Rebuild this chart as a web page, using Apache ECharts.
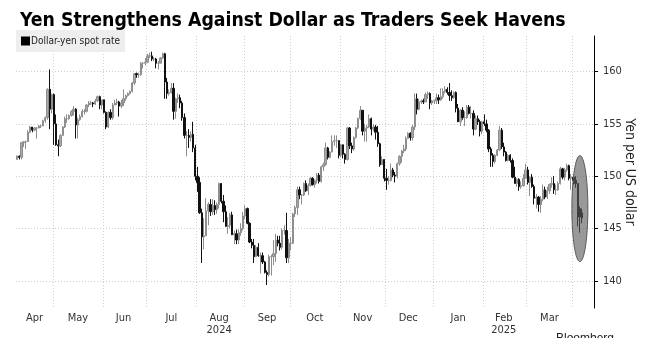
<!DOCTYPE html>
<html>
<head>
<meta charset="utf-8">
<script src="https://cdn.jsdelivr.net/npm/echarts@6/dist/echarts.min.js"></script>
<style>
html,body{margin:0;padding:0;background:#fff;}
#chart{width:650px;height:338px;}
</style>
</head>
<body>
<div id="chart"></div>
<script>
// Each candle: [open, close, low, high] (yen per US dollar)
const apr2024 = [
[151.6,151.9,151.6,152.0],[151.9,151.8,151.6,152.0],[151.8,153.2,151.6,153.2],[153.2,153.3,152.8,153.3],[153.3,153.3,152.6,153.4],
[153.3,154.2,153.3,154.4],[154.2,154.7,154.1,154.8],[154.7,154.4,154.2,154.7],[154.4,154.6,154.3,154.7],[154.6,154.6,153.6,154.7],
[154.6,154.8,154.6,154.9],[154.8,154.8,154.6,154.9],[154.8,155.3,154.8,155.4],[155.3,155.6,155.1,155.7],[155.6,158.3,155.4,158.4],
[158.3,156.4,154.5,160.2],[156.4,157.8,156.0,157.9]];
const may2024 = [
[157.8,155.0,153.0,157.9],[155.0,153.0,152.9,155.9],[153.0,152.9,151.9,153.5],[152.9,153.9,152.8,154.0],[153.9,154.7,153.9,154.8],
[154.7,155.5,154.6,155.7],[155.5,155.5,155.1,155.9],[155.5,155.8,155.4,155.9],[155.8,156.2,155.7,156.3],[156.2,156.4,155.8,156.7],
[156.4,154.9,153.6,156.5],[154.9,155.4,153.6,155.6],[155.4,155.7,155.3,155.9],[155.7,156.2,155.6,156.4],[156.2,156.2,155.9,156.4],
[156.2,156.8,156.1,156.9],[156.8,157.0,156.6,157.2],[157.0,157.0,156.8,157.2],[157.0,156.9,156.6,157.1],[156.9,157.2,156.8,157.4],
[157.2,157.6,157.1,157.7],[157.6,156.8,156.4,157.7],[156.8,157.3,156.4,157.3]];
const jun2024 = [
[157.3,156.1,156.0,157.3],[156.1,154.7,154.5,156.2],[154.7,156.1,154.6,156.2],[156.1,155.6,155.4,156.4],[155.6,156.8,155.4,157.0],
[156.8,157.0,156.8,157.3],[157.0,157.1,156.8,157.4],[157.1,156.7,155.7,157.2],[156.7,157.0,156.5,157.3],[157.0,157.4,156.7,158.3],
[157.4,157.7,157.2,157.8],[157.7,157.9,157.6,158.0],[157.9,158.1,157.8,158.2],[158.1,158.9,158.0,159.0],[158.9,159.8,158.7,159.8],
[159.8,159.7,159.4,159.9],[159.7,159.7,159.4,159.9],[159.7,160.8,159.6,160.9],[160.8,160.8,160.3,160.9],[160.8,160.9,160.6,161.3]];
const jul2024 = [
[160.9,161.5,160.8,161.7],[161.5,161.5,161.3,161.8],[161.5,161.2,161.0,161.9],[161.2,161.2,161.0,161.4],[161.2,160.8,160.3,161.3],
[160.8,160.8,160.2,161.0],[160.8,161.3,160.8,161.4],[161.3,161.7,161.2,161.8],[161.7,159.0,157.4,161.8],[159.0,157.9,157.4,159.4],
[157.9,158.0,157.7,158.3],[158.0,158.4,157.9,158.9],[158.4,156.2,155.4,158.9],[156.2,157.4,155.5,157.5],[157.4,157.5,157.0,157.9],
[157.5,157.0,156.5,157.8],[157.0,155.6,155.3,157.2],[155.6,153.9,153.6,156.0],[153.9,153.9,151.9,154.3],[153.9,153.7,152.7,154.5],
[153.7,154.0,153.3,154.3],[154.0,152.7,152.3,155.2],[152.7,150.0,149.6,153.0]];
const aug2024 = [
[150.0,149.4,148.5,150.9],[149.4,146.5,146.4,149.9],[146.5,144.2,141.7,146.9],[144.2,144.3,143.0,146.0],[144.3,146.7,144.3,147.9],
[146.7,147.3,145.3,147.5],[147.3,146.6,146.2,147.8],[146.6,147.2,146.3,147.8],[147.2,146.8,146.3,147.7],[146.8,147.3,146.4,147.5],
[147.3,149.3,146.9,149.4],[149.3,147.6,147.4,149.0],[147.6,146.6,145.6,148.2],[146.6,145.2,145.2,147.2],[145.2,145.3,144.5,146.1],
[145.3,146.3,145.0,146.5],[146.3,144.4,144.4,146.6],[144.4,144.5,143.5,144.8],[144.5,143.9,143.5,144.9],[143.9,144.6,143.5,144.9],
[144.6,145.0,144.3,145.5],[145.0,146.2,144.8,146.6]];
const sep2024 = [
[146.2,146.9,145.9,147.2],[146.9,145.5,145.4,147.0],[145.5,143.7,143.6,145.6],[143.7,143.4,143.1,144.0],[143.4,142.3,141.7,144.0],
[142.3,143.2,142.3,143.4],[143.2,142.4,142.3,143.6],[142.4,142.4,140.7,142.7],[142.4,141.8,141.6,142.7],[141.8,140.8,140.7,141.9],
[140.8,140.6,139.6,141.0],[140.6,142.3,140.4,142.5],[142.3,142.3,140.5,142.5],[142.3,142.6,141.5,143.9],[142.6,143.9,141.8,144.5],
[143.9,143.6,143.3,144.3],[143.6,143.2,142.9,144.3],[143.2,144.8,143.0,145.0],[144.8,144.8,144.4,145.3],[144.8,142.2,141.7,146.5],
[142.2,143.6,141.7,144.0]];
const oct2024 = [
[143.6,143.6,142.9,144.2],[143.6,146.4,143.5,146.5],[146.4,147.0,146.1,147.2],[147.0,148.7,146.3,149.0],[148.7,148.2,147.8,149.0],
[148.2,148.2,147.3,148.3],[148.2,149.3,148.1,149.4],[149.3,148.6,148.5,149.6],[148.6,149.1,148.2,149.3],[149.1,149.8,149.0,149.9],
[149.8,149.2,149.1,149.9],[149.2,149.6,148.9,149.7],[149.6,150.1,149.3,150.3],[150.1,149.5,149.3,150.3],[149.5,150.9,149.4,151.0],
[150.9,151.1,150.5,151.3],[151.1,152.7,151.0,153.2],[152.7,151.8,151.6,152.8],[151.8,152.3,151.7,152.4],[152.3,153.3,152.3,153.9],
[153.3,153.4,152.9,153.9],[153.4,153.4,152.7,153.9],[153.4,152.0,151.7,153.4]];
const nov2024 = [
[152.0,153.0,151.8,153.1],[153.0,152.1,151.7,152.4],[152.1,151.6,151.2,152.2],[151.6,154.6,151.5,154.7],[154.6,152.9,152.6,154.7],
[152.9,152.6,152.2,153.2],[152.6,153.7,152.4,153.8],[153.7,154.6,153.6,154.7],[154.6,155.5,154.5,155.6],[155.5,156.3,155.4,156.7],
[156.3,154.3,153.9,156.3],[154.3,154.6,153.3,155.0],[154.6,154.7,153.3,154.9],[154.7,155.5,154.6,155.9],[155.5,154.5,153.9,155.6],
[154.5,154.7,154.3,155.0],[154.7,154.2,153.5,154.9],[154.2,153.1,152.8,154.8],[153.1,151.1,150.9,153.2],[151.1,151.6,151.1,151.9],
[151.6,149.8,149.5,151.6]];
const dec2024 = [
[149.8,149.6,148.7,150.7],[149.6,149.6,149.2,150.0],[149.6,150.6,149.5,151.2],[150.6,150.1,149.9,150.8],[150.1,150.0,149.4,150.4],
[150.0,151.2,149.8,151.3],[151.2,151.9,151.0,152.0],[151.9,152.4,151.3,152.5],[152.4,152.6,152.2,153.0],[152.6,153.6,152.4,153.8],
[153.6,154.1,153.6,154.2],[154.1,153.7,153.4,154.2],[153.7,154.7,153.4,154.9],[154.7,157.4,154.4,157.9],[157.4,156.4,155.9,157.9],
[156.4,157.1,156.3,157.4],[157.1,157.2,156.9,157.3],[157.2,157.1,156.9,157.4],[157.1,157.8,157.1,158.0],[157.8,157.9,157.4,158.1],
[157.9,157.0,156.4,158.0],[157.0,157.2,156.8,157.3]];
const jan2025 = [
[157.2,157.2,156.9,157.3],[157.2,157.5,156.9,157.9],[157.5,157.3,156.9,157.8],[157.3,157.6,157.2,158.4],[157.6,158.1,157.4,158.4],
[158.1,158.3,157.9,158.6],[158.3,158.0,157.8,158.5],[158.0,157.7,157.2,158.9],[157.7,157.5,157.2,158.2],[157.5,158.0,157.4,158.1],
[158.0,156.5,156.1,158.1],[156.5,155.2,155.2,156.9],[155.2,156.3,154.8,156.4],[156.3,155.6,155.4,156.6],[155.6,155.6,154.8,156.2],
[155.6,156.6,155.5,156.8],[156.6,156.0,155.9,156.8],[156.0,156.0,155.5,156.7],[156.0,154.5,153.9,156.3],[154.5,155.5,154.4,155.8],
[155.5,155.2,154.9,155.8],[155.2,154.3,153.8,155.4],[154.3,155.2,154.0,155.3]];
const feb2025 = [
[155.2,155.0,154.8,155.9],[155.0,154.4,154.2,155.4],[154.4,152.6,152.3,154.5],[152.6,152.0,150.9,152.8],[152.0,151.4,150.9,152.2],
[151.4,152.0,151.2,152.1],[152.0,152.5,151.9,152.6],[152.5,154.4,152.4,154.8],[154.4,152.8,152.6,154.6],[152.8,152.3,151.9,153.2],
[152.3,151.5,151.4,152.4],[151.5,152.0,151.4,152.1],[152.0,151.5,151.3,152.1],[151.5,149.9,149.8,151.7],[149.9,149.3,149.3,150.9],
[149.3,149.7,149.0,149.8],[149.7,149.0,148.6,149.8],[149.0,149.1,148.8,149.5],[149.1,149.8,149.0,150.2],[149.8,150.6,149.8,151.2]];
const mar2025 = [
[150.6,149.4,149.2,150.9],[149.4,149.9,148.1,150.0],[149.9,149.0,148.9,150.2],[149.0,147.9,147.3,149.2],[147.9,148.0,146.9,148.3],
[148.0,147.3,146.6,148.1],[147.3,147.8,146.5,148.1],[147.8,148.7,147.6,149.2],[148.7,148.0,147.8,149.0],[148.0,148.6,147.8,149.0],
[148.6,149.2,148.3,149.3],[149.2,149.3,148.9,149.9],[149.3,148.7,148.3,150.0],[148.7,148.7,148.2,149.2],[148.7,149.3,148.6,149.5],
[149.3,150.7,149.2,150.9],[150.7,149.9,149.7,150.8],[149.9,150.6,149.6,150.8],[150.6,151.0,150.4,151.2],[151.0,149.8,149.6,151.1],
[149.8,149.9,148.7,150.2]];
const apr2025 = [
[149.9,149.6,149.2,150.0],[149.6,149.3,148.9,150.0],[149.3,146.1,145.2,149.3],[146.9,146.1,144.6,147.1],[146.5,146.0,145.5,146.9]];

const firstDay = '2024-04-08';
const totalDays = 266;          // weekday slots on the axis (data + blank days to the right)
const monthNames = ['Jan','Feb','Mar','Apr','May','Jun','Jul','Aug','Sep','Oct','Nov','Dec'];
const yearLabelMonths = {'2024-08':'2024','2025-02':'2025'};
const yTicks = [140,145,150,155,160];
const seriesName = 'Dollar-yen spot rate';
const titleText = 'Yen Strengthens Against Dollar as Traders Seek Havens';

// weekday categories
const dates = [];
(function(){
  let d = new Date(firstDay + 'T00:00:00Z');
  while (dates.length < totalDays) {
    const wd = d.getUTCDay();
    if (wd !== 0 && wd !== 6) dates.push(d.toISOString().slice(0,10));
    d = new Date(d.getTime() + 86400000);
  }
})();
const candles = [].concat(apr2024, may2024, jun2024, jul2024, aug2024, sep2024, oct2024, nov2024, dec2024, jan2025, feb2025, mar2025, apr2025);

// month groups
const monthStart = new Set();
const monthRanges = {};
dates.forEach((d, i) => {
  const k = d.slice(0,7);
  if (!monthRanges[k]) { monthRanges[k] = [i, i]; if (i > 0) monthStart.add(i); }
  monthRanges[k][1] = i;
});
const labelAt = {};
Object.keys(monthRanges).forEach(k => {
  if (k === '2025-04') return;
  const r = monthRanges[k];
  const idx = Math.floor((r[0] + r[1]) / 2);
  const m = monthNames[parseInt(k.slice(5,7),10) - 1];
  labelAt[idx] = yearLabelMonths[k] ? m + '\n' + yearLabelMonths[k] : m;
});

const font = "'DejaVu Sans Condensed','DejaVu Sans',sans-serif";
const chart = echarts.init(document.getElementById('chart'), null, {renderer: 'canvas'});
chart.setOption({
  animation: false,
  backgroundColor: '#ffffff',
  title: {
    text: titleText, left: 15, top: 6,
    textStyle: {fontFamily: font, fontWeight: 'bold', fontSize: 19.3, color: '#000'}
  },
  legend: {
    left: 16, top: 30, padding: [6, 5, 6, 5],
    backgroundColor: '#eeeeee', borderRadius: 0,
    icon: 'rect', itemWidth: 7, itemHeight: 7, itemGap: 4,
    data: [{name: seriesName, itemStyle: {color: '#000', borderColor: '#000'}}],
    textStyle: {fontFamily: font, fontSize: 10, color: '#222', padding: [0, 0, 0, -3]}
  },
  grid: {left: 16, right: 56, top: 36, bottom: 30, containLabel: false, outerBoundsMode: 'none'},
  xAxis: {
    type: 'category', data: dates, boundaryGap: true,
    axisLine: {show: false}, axisTick: {show: false},
    axisLabel: {
      interval: (i) => labelAt[i] !== undefined,
      formatter: (v, i) => labelAt[i] || '',
      fontFamily: font, fontSize: 11, color: '#333', lineHeight: 12, margin: 4
    },
    splitLine: {show: true, interval: (i) => monthStart.has(i),
      lineStyle: {color: '#cfcfcf', type: [1, 2], width: 1}}
  },
  yAxis: {
    type: 'value', position: 'right', min: 137.4, max: 163.4, scale: true,
    name: 'Yen per US dollar', nameLocation: 'middle', nameRotate: -90, nameGap: 29,
    nameMoveOverlap: false,
    nameTextStyle: {fontFamily: font, fontSize: 14, color: '#222'},
    axisLine: {show: true, lineStyle: {color: '#000', width: 1}},
    axisTick: {show: true, length: 4, customValues: yTicks, lineStyle: {color: '#000'}},
    axisLabel: {customValues: yTicks, fontFamily: font, fontSize: 11, color: '#333', margin: 9},
    splitLine: {show: true, lineStyle: {color: '#cfcfcf', type: [1, 2], width: 1}}
  },
  series: [{
    name: seriesName, type: 'candlestick', data: candles, barWidth: 1.8,
    itemStyle: {color: '#a8a8a8', borderColor: '#8e8e8e', color0: '#111111', borderColor0: '#111111', borderWidth: 1}
  }],
  graphic: [{
    type: 'text', left: 556, top: 333,
    style: {text: 'Bloomberg', font: "bold 15px 'Liberation Sans', Arial, sans-serif", fill: '#222'}
  }]
});

// highlight ellipse around the latest sell-off (anchored to data coordinates)
const ctr = chart.convertToPixel({gridIndex: 0}, [dates[259], 146.9]);
chart.setOption({graphic: [{}, {
  type: 'ellipse', shape: {cx: ctr[0], cy: ctr[1], rx: 8, ry: 53}, z: 100,
  style: {fill: 'rgba(90,90,90,0.62)', stroke: '#5a5a5a', lineWidth: 1}
}]});
</script>
</body>
</html>
